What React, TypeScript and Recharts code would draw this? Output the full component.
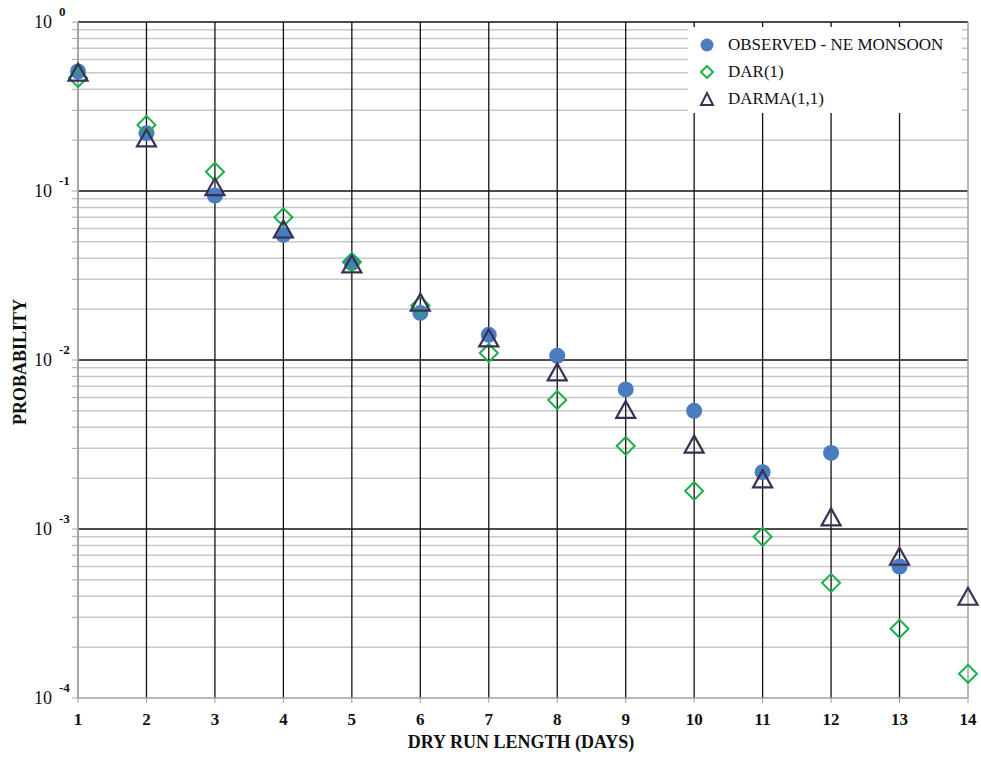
import React, { useLayoutEffect } from 'react';
import {
  ScatterChart,
  Scatter,
  XAxis,
  YAxis,
  ReferenceLine,
  Legend,
} from 'recharts';

const days = [1, 2, 3, 4, 5, 6, 7, 8, 9, 10, 11, 12, 13, 14];
const observedProb: (number | null)[] = [0.51, 0.22, 0.094, 0.055, 0.0375, 0.019, 0.0141, 0.0106, 0.0067, 0.005, 0.00217, 0.00282, 0.0006, null];
const dar1Prob: number[] = [0.466, 0.246, 0.13, 0.07, 0.038, 0.021, 0.011, 0.0058, 0.0031, 0.00168, 0.0009, 0.00048, 0.000257, 0.000139];
const darmaProb: number[] = [0.505, 0.206, 0.106, 0.0596, 0.037, 0.022, 0.0135, 0.0085, 0.0051, 0.00318, 0.00198, 0.00118, 0.00069, 0.0004];

const decadeExponents = [0, -1, -2, -3, -4];
const minorMultipliers = [2, 3, 4, 5, 6, 7, 8, 9];
const seriesNames = ['OBSERVED - NE MONSOON', 'DAR(1)', 'DARMA(1,1)'];

const BLUE = '#4a7dc0';
const GREEN = '#1cb04c';
const PURPLE = '#3a2f55';
const FONT = '"Liberation Serif", "Times New Roman", serif';

const toPoints = (vals: (number | null)[]) =>
  days
    .map((d, i) => ({ x: d, y: vals[i] }))
    .filter((p) => p.y !== null && p.y !== undefined);

const observedData = toPoints(observedProb);
const dar1Data = toPoints(dar1Prob);
const darmaData = toPoints(darmaProb);

const decadeValues = decadeExponents.map((e) => Math.pow(10, e));
const minorValues: number[] = [];
decadeExponents.slice(1).forEach((e) => {
  minorMultipliers.forEach((m) => minorValues.push(m * Math.pow(10, e)));
});
const yTicks = [...decadeValues, ...minorValues].sort((a, b) => a - b);

const CircleShape = (props: any) => {
  const { cx, cy } = props;
  if (cx == null || cy == null) return null;
  return <circle cx={cx} cy={cy} r={8} fill={BLUE} />;
};

const DiamondShape = (props: any) => {
  const { cx, cy } = props;
  if (cx == null || cy == null) return null;
  const h = 9;
  return (
    <polygon
      points={`${cx},${cy - h} ${cx + h},${cy} ${cx},${cy + h} ${cx - h},${cy}`}
      fill="none"
      stroke={GREEN}
      strokeWidth={2}
    />
  );
};

const TriangleShape = (props: any) => {
  const { cx, cy } = props;
  if (cx == null || cy == null) return null;
  const w = 9.5;
  const h = 8.5;
  return (
    <polygon
      points={`${cx},${cy - h} ${cx + w},${cy + h} ${cx - w},${cy + h}`}
      fill="none"
      stroke={PURPLE}
      strokeWidth={2.2}
      strokeLinejoin="miter"
    />
  );
};

const YTick = (props: any) => {
  const { x, y, payload } = props;
  const v = payload.value;
  const e = Math.round(Math.log10(v));
  if (Math.abs(Math.pow(10, e) - v) > v * 1e-6) return null;
  return (
    <g>
      <text x={x - 18} y={y + 6} textAnchor="end" fontFamily={FONT} fontSize={18} fill="#111">
        10
      </text>
      <text x={x - 11} y={y - 6} textAnchor="start" fontFamily={FONT} fontSize={13} fontWeight="bold" fill="#111">
        {e === 0 ? '0' : `-${Math.abs(e)}`}
      </text>
    </g>
  );
};

const XTick = (props: any) => {
  const { x, y, payload } = props;
  return (
    <text x={x} y={y + 20} textAnchor="middle" fontFamily={FONT} fontSize={17} fontWeight="bold" fill="#111">
      {payload.value}
    </text>
  );
};

const YLabel = (props: any) => {
  const vb = props.viewBox || {};
  const cx = (vb.x || 0) + 12;
  const cy = (vb.y || 0) + (vb.height || 0) / 2 + 2;
  return (
    <text
      x={cx}
      y={cy}
      transform={`rotate(-90, ${cx}, ${cy})`}
      textAnchor="middle"
      dominantBaseline="central"
      fontFamily={FONT}
      fontSize={18}
      fontWeight="bold"
      fill="#111"
    >
      PROBABILITY
    </text>
  );
};

const XLabel = (props: any) => {
  const vb = props.viewBox || {};
  const cx = (vb.x || 0) + (vb.width || 0) / 2 - 2;
  const cy = (vb.y || 0) + 50;
  return (
    <text x={cx} y={cy} textAnchor="middle" fontFamily={FONT} fontSize={18} fontWeight="bold" fill="#111">
      DRY RUN LENGTH (DAYS)
    </text>
  );
};

const legendMarkers = [
  <circle cx={8} cy={8} r={6.5} fill={BLUE} />,
  <polygon points="8,2 14,8 8,14 2,8" fill="none" stroke={GREEN} strokeWidth={2} />,
  <polygon points="8,2 14,14 2,14" fill="none" stroke={PURPLE} strokeWidth={2} />,
];

const LegendContent = () => (
  <div
    style={{
      background: '#fff',
      width: 274,
      height: 86,
      boxSizing: 'border-box',
      paddingTop: 4,
    }}
  >
    {seriesNames.map((name, i) => (
      <div key={name} style={{ display: 'flex', alignItems: 'center', height: 27, paddingLeft: 11 }}>
        <svg width={16} height={16} style={{ display: 'block' }}>
          {legendMarkers[i]}
        </svg>
        <span
          style={{
            marginLeft: 13,
            fontFamily: FONT,
            fontSize: 17,
            color: '#111',
            lineHeight: '27px',
            whiteSpace: 'nowrap',
          }}
        >
          {name}
        </span>
      </div>
    ))}
  </div>
);

export default function App() {
  useLayoutEffect(() => {
    document.body.style.margin = '0';
  }, []);
  return (
    <div style={{ width: 981, height: 757, position: 'relative' }}>
      <ScatterChart
        width={981}
        height={757}
        margin={{ top: 22, right: 13, bottom: 5, left: 8 }}
      >
        <XAxis
          type="number"
          dataKey="x"
          domain={[1, 14]}
          ticks={days}
          interval={0}
          tick={<XTick />}
          tickSize={5}
          tickLine={{ stroke: '#a0a0a0' }}
          axisLine={{ stroke: '#a0a0a0', strokeWidth: 1.5 }}
          height={54}
          label={<XLabel />}
        />
        <YAxis
          type="number"
          dataKey="y"
          scale="log"
          domain={[1e-4, 1]}
          ticks={yTicks}
          interval={0}
          tick={<YTick />}
          tickSize={6}
          tickMargin={2}
          tickLine={{ stroke: '#a8a8a8' }}
          axisLine={{ stroke: '#a0a0a0', strokeWidth: 1.5 }}
          width={70}
          label={<YLabel />}
        />
        {minorValues.map((v) => (
          <ReferenceLine key={`mn${v}`} y={v} stroke="#c8c8c8" strokeWidth={1.5} />
        ))}
        {decadeValues.map((v) =>
          v === 1e-4 ? null : (
            <ReferenceLine key={`mj${v}`} y={v} stroke="#111" strokeWidth={1.3} />
          )
        )}
        {days.map((d) => (
          <ReferenceLine
            key={`v${d}`}
            x={d}
            stroke={d === 1 || d === 14 ? '#a0a0a0' : '#111'}
            strokeWidth={d === 1 || d === 14 ? 1.5 : 1.3}
          />
        ))}
        <Legend
          layout="vertical"
          align="center"
          verticalAlign="middle"
          content={<LegendContent />}
          wrapperStyle={{ position: 'absolute', left: 688, top: 27, width: 274, height: 86 }}
        />
        <Scatter
          name={seriesNames[0]}
          data={observedData}
          shape={CircleShape}
          isAnimationActive={false}
        />
        <Scatter
          name={seriesNames[1]}
          data={dar1Data}
          shape={DiamondShape}
          isAnimationActive={false}
        />
        <Scatter
          name={seriesNames[2]}
          data={darmaData}
          shape={TriangleShape}
          isAnimationActive={false}
        />
      </ScatterChart>
    </div>
  );
}
